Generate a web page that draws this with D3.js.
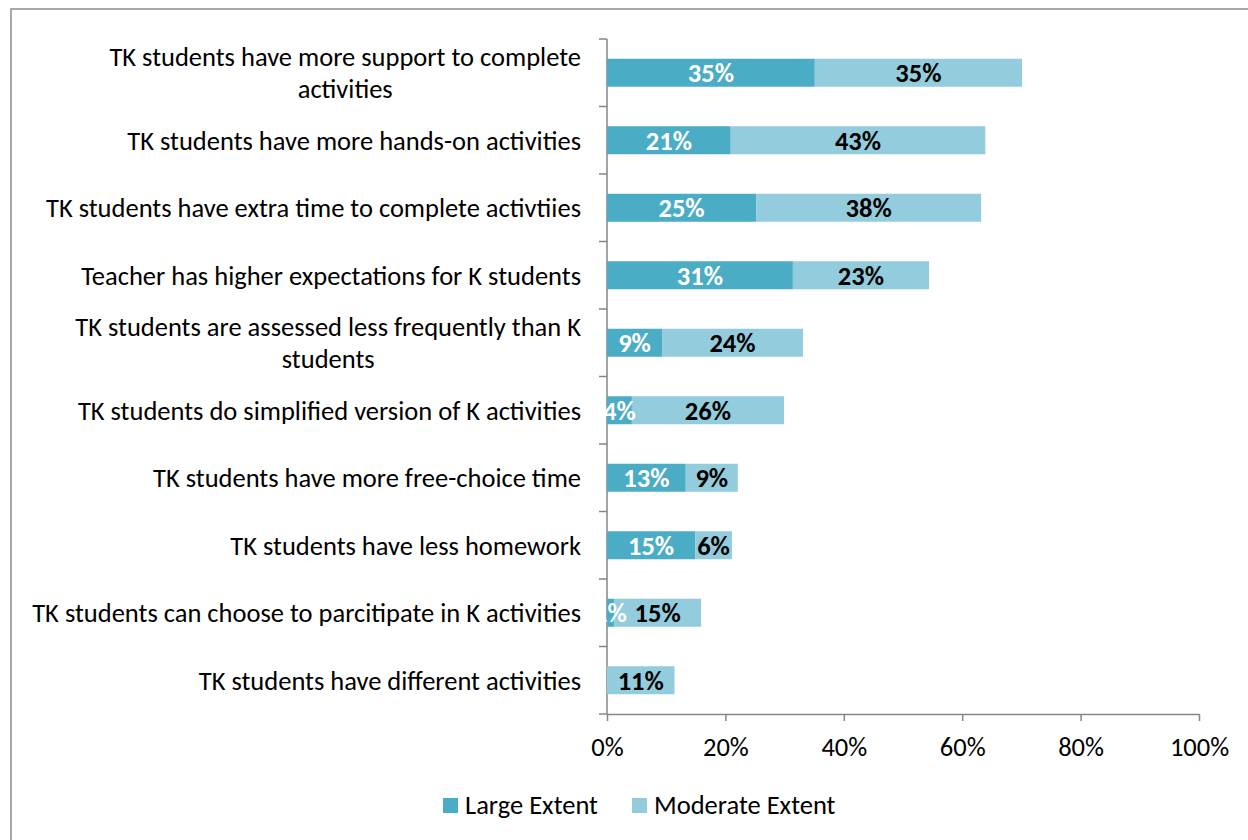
<!DOCTYPE html>
<html><head><meta charset="utf-8">
<script src="https://cdn.jsdelivr.net/npm/d3@7"></script>
<style>body{margin:0;background:#fff}svg{display:block}text{font-family:Carlito,Lato,"Open Sans",sans-serif}</style>
</head><body>
<script>
const categories = [
  "TK students have more support to complete\nactivities",
  "TK students have more hands-on activities",
  "TK students have extra time to complete activtiies",
  "Teacher has higher expectations for K students",
  "TK students are assessed less frequently than K\nstudents",
  "TK students do simplified version of K activities",
  "TK students have more free-choice time",
  "TK students have less homework",
  "TK students can choose to parcitipate in K activities",
  "TK students have different activities"
];
const largeExtent    = [35.1, 20.9, 25.2, 31.4, 9.3, 4.2, 13.3, 14.9, 1.2, 0];
const moderateExtent = [35.0, 43.0, 38.0, 23.0, 23.8, 25.7, 8.8, 6.2, 14.7, 11.4];
const seriesNames = ["Large Extent", "Moderate Extent"];
const xTicks = [0, 20, 40, 60, 80, 100];

(function(){
const W = 1248, H = 840;
const colors = ["#4BACC6", "#93CDDD"];
const labelColors = ["#ffffff", "#000000"];
const FONT = "Carlito,Lato,'Open Sans',sans-serif";
const FS = 26.5;
const svg = d3.select("body").append("svg").attr("width", W).attr("height", H);

svg.append("rect").attr("x", 11).attr("y", 9).attr("width", W).attr("height", H)
  .attr("fill", "none").attr("stroke", "#8c8c8c").attr("stroke-width", 1.5);

const pL = 607, pR = 1199, pT = 39, pB = 714;
const x = d3.scaleLinear().domain([0, 100]).range([pL, pR]);
const y = d3.scaleBand().domain(categories).range([pT, pB]).paddingInner(0.585).paddingOuter(0.2925);

const axisColor = "#868686";

const gx = svg.append("g").attr("transform", `translate(0,${pB})`)
  .call(d3.axisBottom(x).tickValues(xTicks).tickFormat(d => d + "%").tickSize(7).tickSizeOuter(0).tickPadding(16));
gx.select(".domain").attr("stroke", axisColor).attr("stroke-width", 1.5);
gx.selectAll(".tick line").attr("stroke", axisColor).attr("stroke-width", 1.5);
gx.selectAll(".tick text").attr("font-size", FS).attr("fill", "#000").style("font-family", FONT);

svg.append("line").attr("x1", pL).attr("x2", pL).attr("y1", pT).attr("y2", pB)
  .attr("stroke", axisColor).attr("stroke-width", 1.5);
d3.range(categories.length + 1).forEach(i => {
  const yy = pT + i * (pB - pT) / categories.length;
  svg.append("line").attr("x1", pL - 8).attr("x2", pL).attr("y1", yy).attr("y2", yy)
    .attr("stroke", axisColor).attr("stroke-width", 1.5);
});

categories.forEach(c => {
  const lines = c.split("\n");
  const cy = y(c) + y.bandwidth() / 2;
  const lh = 32;
  const t = svg.append("text").attr("text-anchor", "end").attr("font-size", FS).attr("fill", "#000");
  lines.forEach((ln, i) => {
    t.append("tspan").attr("x", 581)
      .attr("y", cy + (i - (lines.length - 1) / 2) * lh).attr("dy", "0.35em").text(ln);
  });
  if (lines.length > 1) {
    const first = t.select("tspan").node();
    const bb = first.getBBox();
    const center = bb.x + bb.width / 2;
    t.selectAll("tspan").filter((d, i) => i > 0).attr("x", center).attr("text-anchor", "middle");
  }
});

const stackData = categories.map((c, i) => ({ cat: c, large: largeExtent[i], moderate: moderateExtent[i] }));
const stack = d3.stack().keys(["large", "moderate"])(stackData);
stack.forEach((s, si) => {
  const g = svg.append("g");
  g.selectAll("rect").data(s).join("rect")
    .attr("x", d => x(d[0])).attr("width", d => x(d[1]) - x(d[0]))
    .attr("y", d => y(d.data.cat)).attr("height", y.bandwidth())
    .attr("fill", colors[si]);
});
stack.forEach((s, si) => {
  const g = svg.append("g");
  g.selectAll("text").data(s.filter(d => d[1] - d[0] > 0)).join("text")
    .attr("x", d => (x(d[0]) + x(d[1])) / 2).attr("y", d => y(d.data.cat) + y.bandwidth() / 2)
    .attr("dy", "0.35em").attr("text-anchor", "middle").attr("font-size", FS).attr("font-weight", "bold")
    .attr("fill", labelColors[si]).text(d => Math.round(d[1] - d[0]) + "%");
});

const legend = svg.append("g").attr("transform", "translate(443,805)");
const legX = [0, 189];
seriesNames.forEach((n, i) => {
  legend.append("rect").attr("x", legX[i]).attr("y", -7).attr("width", 15).attr("height", 15).attr("fill", colors[i]);
  legend.append("text").attr("x", legX[i] + 22).attr("y", 0).attr("dy", "0.35em").attr("font-size", FS).attr("fill", "#000").text(n);
});
})();
</script>
</body></html>
